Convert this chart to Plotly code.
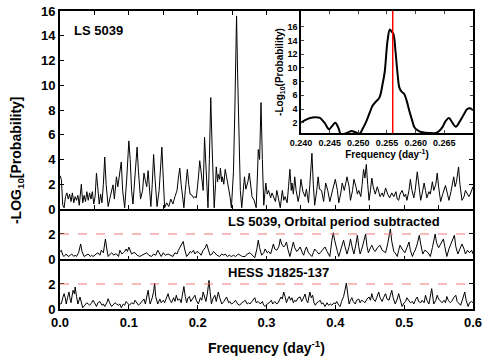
import plotly.graph_objects as go

# LS 5039 periodogram (top panel)
top_freq = [0.000, 0.002, 0.004, 0.006, 0.008, 0.010, 0.012, 0.014, 0.016, 0.018, 0.020, 0.022, 0.024, 0.026, 0.028,
            0.031, 0.033, 0.035, 0.037, 0.039, 0.041, 0.043, 0.045, 0.047, 0.049, 0.051, 0.053, 0.055, 0.057, 0.059,
            0.061, 0.063, 0.065, 0.067, 0.070, 0.073, 0.075, 0.077, 0.079, 0.082, 0.084, 0.086, 0.089, 0.091, 0.094,
            0.097, 0.100, 0.102, 0.104, 0.106, 0.109, 0.112, 0.114, 0.117, 0.120, 0.122, 0.124, 0.126, 0.128, 0.130,
            0.132, 0.134, 0.136, 0.138, 0.141, 0.144, 0.146, 0.148, 0.150, 0.152, 0.155, 0.158, 0.161, 0.164, 0.167,
            0.170, 0.172, 0.174, 0.176, 0.178, 0.180, 0.182, 0.185, 0.187, 0.189, 0.192, 0.194, 0.196, 0.198, 0.201,
            0.203, 0.205, 0.208, 0.210, 0.212, 0.215, 0.217, 0.219, 0.221, 0.224, 0.226, 0.227, 0.229, 0.230, 0.232,
            0.233, 0.235, 0.236, 0.238, 0.240, 0.242, 0.245, 0.247, 0.249, 0.252, 0.254, 0.2555, 0.2565, 0.258, 0.260,
            0.262, 0.264, 0.266, 0.268, 0.270, 0.271, 0.273, 0.275, 0.277, 0.279, 0.282, 0.285, 0.287, 0.288, 0.290,
            0.292, 0.294, 0.296, 0.299, 0.301, 0.303, 0.306, 0.308, 0.310, 0.313, 0.315, 0.318, 0.320, 0.323, 0.325,
            0.327, 0.330, 0.332, 0.334, 0.336, 0.337, 0.339, 0.341, 0.343, 0.346, 0.348, 0.350, 0.353, 0.356, 0.358,
            0.361, 0.363, 0.366, 0.368, 0.370, 0.373, 0.375, 0.377, 0.380, 0.383, 0.386, 0.389, 0.392, 0.395, 0.397,
            0.400, 0.403, 0.405, 0.408, 0.410, 0.413, 0.415, 0.417, 0.420, 0.422, 0.425, 0.427, 0.430, 0.432, 0.434,
            0.437, 0.439, 0.441, 0.443, 0.445, 0.447, 0.449, 0.451, 0.453, 0.455, 0.458, 0.461, 0.463, 0.465, 0.468,
            0.470, 0.473, 0.476, 0.479, 0.482, 0.485, 0.488, 0.490, 0.492, 0.494, 0.497, 0.500, 0.502, 0.504, 0.507,
            0.509, 0.511, 0.514, 0.516, 0.519, 0.521, 0.524, 0.526, 0.529, 0.531, 0.533, 0.536, 0.538, 0.541, 0.543,
            0.546, 0.548, 0.550, 0.553, 0.556, 0.558, 0.560, 0.563, 0.565, 0.568, 0.570, 0.572, 0.574, 0.576, 0.579,
            0.581, 0.584, 0.587, 0.589, 0.591, 0.594, 0.596, 0.598, 0.600]
top_logp = [2.7, 2.4, 0.3, 0.1, 1.0, 1.3, 0.8, 1.2, 0.6, 1.3, 0.5, 1.0, 0.7, 1.1, 0.3,
            2.0, 0.5, 1.1, 0.6, 1.4, 0.7, 1.3, 0.8, 1.4, 0.4, 1.0, 2.9, 1.5, 0.4, 1.2,
            0.5, 2.0, 4.2, 2.0, 0.2, 1.0, 1.5, 1.95, 0.8, 2.6, 1.8, 2.8, 3.8, 1.5, 0.1,
            2.5, 5.5, 4.0, 1.5, 0.4, 2.5, 5.0, 3.0, 0.8, 1.5, 2.9, 2.3, 1.8, 3.1, 1.5,
            0.2, 2.0, 4.4, 2.5, 0.2, 1.5, 3.0, 5.0, 2.5, 0.1, 0.5, 0.2, 0.8, 0.4, 1.0,
            1.5, 2.5, 3.3, 2.0, 0.8, 0.1, 1.5, 3.2, 2.0, 1.2, 1.1, 0.9, 1.0, 0.9, 2.5,
            3.9, 3.0, 1.5, 5.8, 3.5, 0.1, 4.0, 9.0, 5.0, 0.1, 2.0, 3.4, 2.2, 2.8, 2.4,
            3.3, 2.2, 2.6, 2.0, 3.2, 2.6, 1.8, 1.0, 0.1, 3.0, 8.0, 14.0, 15.6, 11.0, 5.0,
            1.5, 0.1, 1.5, 2.6, 1.6, 1.8, 2.2, 2.9, 2.0, 1.0, 0.7, 0.1, 3.0, 4.8, 4.0,
            8.6, 4.0, 0.3, 2.1, 1.2, 1.5, 0.9, 1.3, 1.0, 0.6, 1.5, 0.8, 0.1, 1.5, 0.7,
            1.0, 0.5, 1.8, 3.2, 1.5, 2.1, 1.2, 2.6, 1.5, 0.6, 1.2, 2.4, 1.4, 1.0, 1.6,
            0.5, 2.0, 4.5, 2.0, 0.3, 1.5, 2.6, 1.6, 1.5, 0.6, 2.1, 1.5, 0.6, 1.3, 1.8,
            2.4, 1.5, 0.5, 1.3, 2.1, 1.5, 2.0, 2.6, 1.8, 0.7, 1.5, 2.4, 1.8, 1.2, 1.5,
            1.0, 2.0, 3.2, 2.5, 3.6, 2.0, 0.7, 1.5, 2.5, 1.8, 1.2, 1.8, 1.4, 1.0, 1.3,
            1.0, 1.7, 1.2, 0.9, 1.3, 1.0, 1.4, 0.8, 0.7, 1.2, 1.5, 1.0, 1.2, 0.7, 1.5,
            2.4, 1.6, 0.9, 1.5, 3.0, 2.0, 0.7, 1.2, 2.1, 1.5, 0.9, 1.4, 1.2, 2.2, 1.5,
            2.0, 2.9, 1.8, 0.6, 1.2, 1.5, 1.9, 1.2, 0.7, 1.4, 2.0, 2.6, 1.8, 2.2, 3.4,
            2.0, 0.7, 1.0, 1.5, 1.3, 1.0, 1.2, 1.5, 1.8]

# LS 5039, orbital period subtracted (middle panel)
mid_freq = [0.000, 0.002, 0.004, 0.006, 0.009, 0.012, 0.015, 0.017, 0.020, 0.022, 0.024, 0.027, 0.030, 0.032, 0.035,
            0.038, 0.041, 0.044, 0.046, 0.048, 0.051, 0.053, 0.055, 0.058, 0.060, 0.063, 0.066, 0.068, 0.070, 0.073,
            0.075, 0.078, 0.080, 0.082, 0.085, 0.087, 0.090, 0.092, 0.094, 0.096, 0.098, 0.100, 0.102, 0.104, 0.107,
            0.109, 0.112, 0.116, 0.119, 0.122, 0.126, 0.129, 0.133, 0.136, 0.139, 0.142, 0.145, 0.147, 0.150, 0.153,
            0.157, 0.160, 0.164, 0.167, 0.170, 0.172, 0.175, 0.179, 0.181, 0.184, 0.187, 0.189, 0.191, 0.194, 0.196,
            0.199, 0.202, 0.205, 0.208, 0.211, 0.213, 0.215, 0.218, 0.221, 0.223, 0.225, 0.228, 0.232, 0.235, 0.238,
            0.240, 0.243, 0.246, 0.249, 0.252, 0.255, 0.259, 0.262, 0.265, 0.269, 0.272, 0.276, 0.280, 0.283, 0.286,
            0.288, 0.290, 0.293, 0.296, 0.298, 0.301, 0.303, 0.306, 0.308, 0.310, 0.312, 0.315, 0.318, 0.320, 0.322,
            0.325, 0.327, 0.329, 0.331, 0.334, 0.337, 0.339, 0.341, 0.344, 0.347, 0.349, 0.352, 0.354, 0.356, 0.358,
            0.361, 0.364, 0.366, 0.368, 0.370, 0.373, 0.376, 0.378, 0.381, 0.385, 0.388, 0.392, 0.395, 0.397, 0.399,
            0.400, 0.403, 0.405, 0.408, 0.412, 0.414, 0.417, 0.420, 0.422, 0.425, 0.427, 0.430, 0.432, 0.434, 0.436,
            0.439, 0.442, 0.444, 0.446, 0.448, 0.451, 0.453, 0.456, 0.458, 0.461, 0.465, 0.468, 0.471, 0.473, 0.476,
            0.478, 0.480, 0.482, 0.485, 0.488, 0.490, 0.492, 0.494, 0.497, 0.501, 0.504, 0.507, 0.509, 0.512, 0.514,
            0.516, 0.519, 0.522, 0.524, 0.527, 0.530, 0.533, 0.536, 0.538, 0.541, 0.543, 0.545, 0.547, 0.550, 0.553,
            0.557, 0.559, 0.562, 0.565, 0.568, 0.571, 0.573, 0.575, 0.578, 0.581, 0.584, 0.587, 0.589, 0.592, 0.595,
            0.598, 0.600]
mid_logp = [0.6, 0.7, 0.3, 0.2, 0.4, 0.2, 0.3, 0.4, 0.2, 0.3, 0.2, 0.5, 1.2, 0.6, 0.2,
            0.3, 0.4, 0.2, 0.3, 0.2, 0.3, 0.4, 0.5, 0.3, 0.7, 0.5, 1.6, 0.8, 0.2, 0.4,
            0.5, 0.3, 0.4, 0.4, 0.2, 0.7, 0.4, 0.5, 0.6, 0.8, 0.6, 0.95, 0.6, 0.4, 0.5,
            0.5, 0.3, 0.2, 0.3, 0.4, 0.5, 0.3, 0.2, 0.4, 0.3, 0.7, 0.4, 0.2, 0.5, 0.3,
            0.4, 0.3, 0.2, 0.5, 0.4, 0.7, 1.0, 1.4, 0.8, 0.2, 0.4, 0.6, 0.5, 0.7, 0.4,
            0.6, 0.5, 0.3, 0.7, 0.9, 1.2, 0.8, 0.3, 0.4, 0.6, 0.5, 0.3, 0.2, 0.4, 0.3,
            0.4, 0.2, 0.3, 0.2, 0.3, 0.2, 0.4, 0.3, 0.2, 0.2, 0.4, 0.5, 0.3, 0.1, 0.8,
            1.5, 0.9, 0.3, 0.5, 0.8, 0.5, 0.6, 0.4, 0.9, 1.2, 0.8, 0.7, 1.0, 1.6, 1.2,
            0.96, 1.1, 1.36, 0.8, 0.2, 0.9, 1.36, 0.9, 0.6, 0.8, 0.96, 0.5, 0.3, 0.7, 0.96,
            0.5, 0.3, 0.2, 0.5, 0.8, 0.6, 0.4, 0.5, 0.7, 0.96, 0.6, 0.2, 1.5, 2.1, 1.5,
            1.2, 0.6, 0.2, 0.8, 1.5, 1.0, 0.4, 1.0, 1.6, 0.8, 0.4, 1.2, 1.9, 1.0, 0.4,
            0.9, 1.6, 2.0, 1.0, 0.5, 0.9, 1.1, 0.7, 0.6, 0.9, 1.1, 0.7, 0.6, 0.5, 1.2,
            1.8, 2.4, 1.4, 0.6, 0.4, 0.2, 0.7, 1.1, 0.8, 0.5, 0.9, 1.36, 0.7, 0.2, 0.5,
            0.7, 1.2, 1.9, 1.2, 0.4, 0.7, 0.6, 0.4, 0.2, 0.9, 1.5, 2.0, 1.3, 0.9, 1.2,
            1.6, 1.0, 0.2, 0.8, 1.2, 1.5, 1.9, 1.0, 0.4, 0.8, 1.2, 0.8, 0.4, 0.7, 0.5,
            0.7, 0.4]

# HESS J1825-137 (bottom panel)
hess_freq = [0.000, 0.002, 0.004, 0.006, 0.008, 0.009, 0.011, 0.013, 0.015, 0.016, 0.018, 0.019, 0.021, 0.022, 0.024,
             0.026, 0.029, 0.031, 0.033, 0.036, 0.039, 0.041, 0.043, 0.046, 0.048, 0.051, 0.053, 0.055, 0.058, 0.061,
             0.063, 0.065, 0.068, 0.070, 0.072, 0.075, 0.078, 0.080, 0.082, 0.085, 0.087, 0.089, 0.092, 0.094, 0.096,
             0.099, 0.101, 0.104, 0.107, 0.109, 0.112, 0.114, 0.116, 0.119, 0.122, 0.124, 0.126, 0.128, 0.130, 0.131,
             0.134, 0.136, 0.1375, 0.139, 0.142, 0.145, 0.147, 0.150, 0.152, 0.155, 0.157, 0.159, 0.162, 0.165, 0.167,
             0.169, 0.171, 0.174, 0.176, 0.178, 0.180, 0.182, 0.184, 0.186, 0.188, 0.190, 0.193, 0.196, 0.198, 0.201,
             0.204, 0.206, 0.208, 0.210, 0.212, 0.214, 0.2165, 0.218, 0.220, 0.222, 0.225, 0.227, 0.230, 0.232, 0.235,
             0.238, 0.240, 0.242, 0.245, 0.247, 0.249, 0.252, 0.255, 0.258, 0.261, 0.264, 0.267, 0.269, 0.272, 0.274,
             0.276, 0.279, 0.281, 0.283, 0.285, 0.288, 0.291, 0.294, 0.296, 0.298, 0.301, 0.304, 0.307, 0.309, 0.312,
             0.315, 0.317, 0.319, 0.321, 0.323, 0.325, 0.327, 0.329, 0.331, 0.333, 0.335, 0.337, 0.339, 0.341, 0.343,
             0.346, 0.349, 0.351, 0.353, 0.356, 0.358, 0.360, 0.363, 0.365, 0.367, 0.369, 0.371, 0.373, 0.376, 0.378,
             0.380, 0.382, 0.385, 0.388, 0.390, 0.393, 0.395, 0.398, 0.400, 0.402, 0.405, 0.407, 0.409, 0.412, 0.414,
             0.416, 0.418, 0.420, 0.422, 0.424, 0.426, 0.429, 0.431, 0.434, 0.436, 0.438, 0.441, 0.443, 0.446, 0.449,
             0.451, 0.453, 0.455, 0.458, 0.460, 0.463, 0.465, 0.468, 0.470, 0.473, 0.475, 0.478, 0.480, 0.482, 0.484,
             0.487, 0.490, 0.492, 0.494, 0.497, 0.500, 0.502, 0.504, 0.507, 0.509, 0.512, 0.514, 0.517, 0.519, 0.521,
             0.524, 0.526, 0.529, 0.531, 0.533, 0.536, 0.538, 0.540, 0.542, 0.543, 0.546, 0.548, 0.550, 0.553, 0.555,
             0.558, 0.560, 0.562, 0.564, 0.567, 0.569, 0.572, 0.575, 0.577, 0.580, 0.582, 0.585, 0.588, 0.590, 0.593,
             0.595, 0.598, 0.600]
hess_logp = [0.4, 0.43, 0.9, 1.23, 0.8, 0.4, 0.9, 1.36, 0.7, 0.5, 1.2, 1.5, 1.2, 1.76, 1.0,
             0.4, 0.96, 0.5, 0.1, 0.3, 0.5, 0.4, 0.3, 0.5, 0.7, 0.4, 0.2, 0.5, 0.6, 0.3,
             0.4, 0.2, 0.5, 0.83, 0.5, 0.2, 0.4, 0.5, 0.4, 0.3, 0.4, 0.1, 0.4, 0.3, 0.6,
             0.4, 0.3, 0.5, 0.4, 0.7, 0.5, 0.3, 0.4, 0.6, 0.8, 0.4, 0.9, 1.5, 0.7, 0.4,
             0.9, 1.4, 2.08, 1.0, 0.4, 0.8, 0.5, 0.7, 0.5, 0.9, 1.23, 0.8, 0.5, 0.9, 0.6,
             1.1, 0.7, 0.8, 0.5, 1.2, 1.8, 1.0, 0.5, 0.9, 1.0, 0.6, 0.9, 1.1, 0.7, 0.4,
             0.9, 0.7, 1.36, 0.9, 0.6, 1.2, 2.29, 1.4, 0.4, 0.8, 1.1, 0.6, 1.36, 0.9, 0.4,
             0.6, 0.8, 0.96, 0.5, 0.6, 0.4, 0.5, 0.7, 0.4, 0.3, 0.5, 0.6, 0.7, 0.4, 0.5,
             0.4, 0.6, 0.8, 0.9, 0.5, 0.6, 0.4, 0.6, 0.3, 0.2, 0.4, 0.5, 0.7, 0.4, 0.6,
             0.4, 0.5, 0.8, 0.96, 0.8, 1.36, 1.0, 0.5, 0.8, 1.0, 0.7, 0.9, 0.5, 0.7, 0.6,
             0.9, 0.96, 0.6, 0.8, 1.2, 0.7, 0.5, 1.36, 0.9, 1.1, 0.5, 0.3, 0.5, 0.6, 0.7,
             0.4, 0.5, 0.2, 0.5, 0.3, 0.4, 0.3, 0.5, 0.4, 0.6, 0.3, 0.2, 0.6, 1.0, 1.5,
             2.08, 1.2, 0.4, 0.7, 0.9, 0.6, 0.4, 0.7, 0.8, 0.5, 0.7, 0.6, 0.5, 0.8, 0.96,
             0.7, 1.23, 0.8, 0.6, 0.9, 1.36, 0.9, 0.6, 0.9, 1.23, 0.8, 0.7, 1.1, 1.5, 0.9,
             0.4, 0.8, 1.23, 0.8, 0.2, 0.5, 0.6, 0.9, 0.7, 0.5, 0.6, 0.4, 0.8, 0.96, 0.6,
             0.5, 0.7, 0.5, 1.1, 0.7, 0.4, 1.0, 1.63, 0.8, 0.4, 0.7, 1.1, 0.8, 0.6, 0.5,
             0.7, 0.5, 1.0, 0.7, 0.5, 0.6, 0.9, 1.1, 0.6, 0.4, 0.3, 0.8, 1.36, 0.7, 0.2,
             0.5, 0.6, 0.5]

# zoom on the orbital peak (inset)
inset_freq = [0.2400, 0.2408, 0.2416, 0.2425, 0.2433, 0.2441, 0.2449, 0.2455, 0.2460, 0.2465, 0.2470, 0.2476,
              0.2482, 0.2488, 0.2495, 0.2502, 0.2508, 0.2514, 0.2520, 0.2525, 0.2531, 0.2537, 0.2542, 0.2546,
              0.2551, 0.2555, 0.2558, 0.2561, 0.2565, 0.2568, 0.2572, 0.2576, 0.2580, 0.2585, 0.2589, 0.2594,
              0.2598, 0.2605, 0.2612, 0.2623, 0.2635, 0.2641, 0.2647, 0.2652, 0.2658, 0.2664, 0.2670, 0.2677,
              0.2684, 0.2690, 0.2695, 0.2700]
inset_logp = [2.0, 2.4, 2.7, 2.8, 2.7, 2.0, 1.05, 1.6, 2.0, 1.3, 0.3, 0.4,
              0.6, 0.8, 0.6, 0.4, 1.2, 2.2, 3.5, 4.5, 5.1, 5.7, 7.5, 9.4,
              14.0, 15.6, 15.3, 15.0, 12.3, 9.5, 7.0, 6.5, 6.2, 5.0, 3.7, 2.3,
              1.3, 0.8, 0.6, 0.5, 0.5, 0.8, 1.4, 2.2, 2.7, 2.0, 1.4, 2.2,
              3.2, 4.0, 4.1, 3.8]
orbital_freq = 0.256
threshold = 2

FONT = "Liberation Sans, Arial, sans-serif"

fig = go.Figure()
fig.add_trace(go.Scatter(x=hess_freq, y=hess_logp, xaxis="x", yaxis="y",
                         mode="lines", line=dict(color="black", width=1)))
fig.add_trace(go.Scatter(x=mid_freq, y=mid_logp, xaxis="x2", yaxis="y2",
                         mode="lines", line=dict(color="black", width=1)))
fig.add_trace(go.Scatter(x=top_freq, y=top_logp, xaxis="x3", yaxis="y3",
                         mode="lines", line=dict(color="black", width=1)))
fig.add_trace(go.Scatter(x=inset_freq, y=inset_logp, xaxis="x4", yaxis="y4",
                         mode="lines", line=dict(color="black", width=2, shape="spline")))

frame = dict(showline=True, linecolor="black", linewidth=2, mirror="ticks", automargin=False,
             ticks="inside", tickcolor="black", showgrid=False, zeroline=False)
# lower panels: no top line, the panel above already draws it
frame_low = dict(frame, mirror=False)
tickfont = dict(family=FONT, size=13, color="black", weight="bold")
small = dict(family=FONT, size=9, color="black", weight="bold")

x_ticks = [0.0, 0.1, 0.2, 0.3, 0.4, 0.5, 0.6]

fig.update_layout(
    width=491, height=364,
    template="none",
    margin=dict(l=60, r=18, t=11, b=55, autoexpand=False),
    paper_bgcolor="white", plot_bgcolor="white",
    showlegend=False,
    xaxis=dict(domain=[0, 1], anchor="y", range=[0, 0.6], tickvals=x_ticks,
               ticktext=["%.1f" % v for v in x_ticks], tickfont=tickfont, ticklen=4, **frame_low),
    yaxis=dict(domain=[0, 0.1678], anchor="x", range=[0, 4], tickvals=[0, 2],
               tickfont=tickfont, ticklen=4, **frame),
    xaxis2=dict(domain=[0, 1], anchor="y2", range=[0, 0.6], showticklabels=False,
                tickvals=x_ticks, ticklen=3, **frame_low),
    yaxis2=dict(domain=[0.1678, 0.3356], anchor="x2", range=[0, 4], tickvals=[0, 2],
                tickfont=tickfont, ticklen=4, **frame),
    xaxis3=dict(domain=[0, 1], anchor="y3", range=[0, 0.6], showticklabels=False,
                dtick=0.05, tick0=0, ticklen=4, **frame),
    yaxis3=dict(domain=[0.3356, 1], anchor="x3", range=[0, 16], dtick=2,
                tickfont=tickfont, ticklen=4, **frame),
    xaxis4=dict(domain=[0.5835, 1.0], anchor="y4", range=[0.240, 0.270],
                tickvals=[0.240, 0.245, 0.250, 0.255, 0.260, 0.265],
                ticktext=["0.240", "0.245", "0.250", "0.255", "0.260", "0.265"],
                tickfont=small, ticklen=3, showline=True, linecolor="black", linewidth=1.5,
                mirror="ticks", ticks="inside", showgrid=False, zeroline=False, automargin=False,
                title=dict(text="Frequency (day<sup>-1</sup>)", standoff=2,
                           font=dict(family=FONT, size=10, color="black", weight="bold"))),
    yaxis4=dict(domain=[0.5906, 1.0], anchor="x4", range=[0.5, 18.3],
                tickvals=[2, 4, 6, 8, 10, 12, 14, 16],
                tickfont=small, ticklen=3, showline=True, linecolor="black", linewidth=1.5,
                mirror="ticks", ticks="inside", showgrid=False, zeroline=False, automargin=False,
                title=dict(text="-Log<sub>10</sub>(Probability)", standoff=2,
                           font=dict(family=FONT, size=10, color="black", weight="bold"))),
)

# significance level in the two lower panels
for yref in ["y", "y2"]:
    fig.add_shape(type="line", xref="paper", yref=yref, x0=0, x1=1, y0=threshold, y1=threshold,
                  line=dict(color="#f07878", width=1, dash="dash"))

# orbital frequency marker in the inset
fig.add_shape(type="line", xref="x4", yref="y4 domain", x0=orbital_freq, x1=orbital_freq, y0=0, y1=1,
              line=dict(color="red", width=1.5))

lab = dict(family=FONT, size=13, color="black", weight="bold")
fig.add_annotation(text="LS 5039", xref="paper", yref="paper", x=0.029, y=0.936,
                   xanchor="left", yanchor="middle", showarrow=False, font=lab)
fig.add_annotation(text="LS 5039, Orbital period subtracted", xref="paper", yref="paper", x=0.402, y=0.292,
                   xanchor="left", yanchor="middle", showarrow=False, font=lab)
fig.add_annotation(text="HESS J1825-137", xref="paper", yref="paper", x=0.402, y=0.121,
                   xanchor="left", yanchor="middle", showarrow=False, font=lab)
fig.add_annotation(text="Frequency (day<sup>-1</sup>)", xref="paper", yref="paper", x=0.5, y=-0.128,
                   xanchor="center", yanchor="middle", showarrow=False,
                   font=dict(family=FONT, size=14, color="black", weight="bold"))
fig.add_annotation(text="-LOG<sub>10</sub>[Probability]", xref="paper", yref="paper", x=-0.104, y=0.5,
                   xanchor="center", yanchor="middle", textangle=-90, showarrow=False,
                   font=dict(family=FONT, size=14, color="black", weight="bold"))

# drop the default page margin so the figure sits at the window corner
fig.write_html("out.html", config={"displayModeBar": False},
               post_script="document.body.style.margin='0';")
